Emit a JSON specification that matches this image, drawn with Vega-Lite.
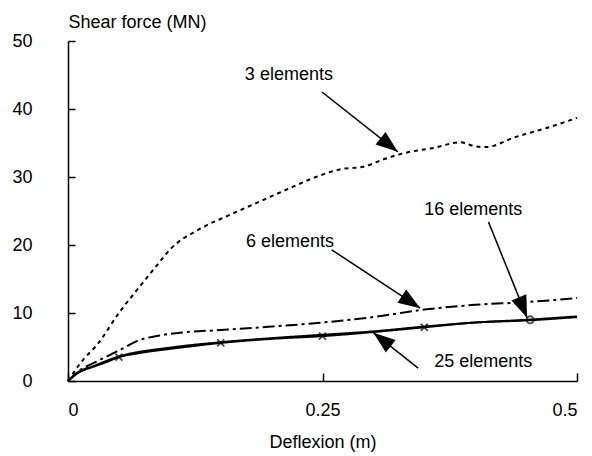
{
  "$schema": "https://vega.github.io/schema/vega-lite/v6.json",
  "autosize": "none",
  "width": 509,
  "height": 340,
  "padding": {"left": 68, "top": 41, "right": 15, "bottom": 75},
  "background": "white",
  "config": {
    "view": {"stroke": null},
    "font": "Liberation Sans",
    "axis": {"grid": false, "domainColor": "black", "tickColor": "black", "labelColor": "black", "titleColor": "black", "labelFont": "Liberation Sans", "titleFont": "Liberation Sans", "labelFontSize": 18, "titleFontSize": 18, "titleFontWeight": "normal", "domainWidth": 1.5, "tickWidth": 1.5}
  },
  "datasets": {
    "curves": [
      {"series": "3", "x": 0, "y": 0},
      {"series": "3", "x": 0.012, "y": 2.6},
      {"series": "3", "x": 0.03, "y": 5.6},
      {"series": "3", "x": 0.05, "y": 10},
      {"series": "3", "x": 0.07, "y": 13.8},
      {"series": "3", "x": 0.09, "y": 17.5},
      {"series": "3", "x": 0.1, "y": 19.3},
      {"series": "3", "x": 0.13, "y": 22.4},
      {"series": "3", "x": 0.16, "y": 24.5},
      {"series": "3", "x": 0.19, "y": 26.5},
      {"series": "3", "x": 0.22, "y": 28.5},
      {"series": "3", "x": 0.24, "y": 29.8},
      {"series": "3", "x": 0.27, "y": 31.2},
      {"series": "3", "x": 0.29, "y": 31.5},
      {"series": "3", "x": 0.31, "y": 32.6},
      {"series": "3", "x": 0.33, "y": 33.5},
      {"series": "3", "x": 0.36, "y": 34.3},
      {"series": "3", "x": 0.385, "y": 35.1},
      {"series": "3", "x": 0.4, "y": 34.5},
      {"series": "3", "x": 0.41, "y": 34.4},
      {"series": "3", "x": 0.44, "y": 35.9},
      {"series": "3", "x": 0.47, "y": 37.2},
      {"series": "3", "x": 0.5, "y": 38.7},
      {"series": "6", "x": 0, "y": 0},
      {"series": "6", "x": 0.01, "y": 1.4},
      {"series": "6", "x": 0.03, "y": 3.0},
      {"series": "6", "x": 0.05, "y": 4.5},
      {"series": "6", "x": 0.07, "y": 6.0},
      {"series": "6", "x": 0.09, "y": 6.7},
      {"series": "6", "x": 0.11, "y": 7.1},
      {"series": "6", "x": 0.15, "y": 7.5},
      {"series": "6", "x": 0.2, "y": 8.0},
      {"series": "6", "x": 0.25, "y": 8.6},
      {"series": "6", "x": 0.3, "y": 9.4},
      {"series": "6", "x": 0.35, "y": 10.5},
      {"series": "6", "x": 0.4, "y": 11.2},
      {"series": "6", "x": 0.45, "y": 11.6},
      {"series": "6", "x": 0.5, "y": 12.2},
      {"series": "16", "x": 0, "y": 0},
      {"series": "16", "x": 0.01, "y": 1.3},
      {"series": "16", "x": 0.025, "y": 2.2},
      {"series": "16", "x": 0.05, "y": 3.6},
      {"series": "16", "x": 0.1, "y": 4.9},
      {"series": "16", "x": 0.15, "y": 5.7},
      {"series": "16", "x": 0.2, "y": 6.3},
      {"series": "16", "x": 0.25, "y": 6.8},
      {"series": "16", "x": 0.3, "y": 7.3},
      {"series": "16", "x": 0.35, "y": 8.0},
      {"series": "16", "x": 0.4, "y": 8.6},
      {"series": "16", "x": 0.45, "y": 9.0},
      {"series": "16", "x": 0.5, "y": 9.5},
      {"series": "25", "x": 0, "y": 0},
      {"series": "25", "x": 0.01, "y": 1.2},
      {"series": "25", "x": 0.025, "y": 2.1},
      {"series": "25", "x": 0.038, "y": 2.8},
      {"series": "25", "x": 0.05, "y": 3.5},
      {"series": "25", "x": 0.07, "y": 4.1},
      {"series": "25", "x": 0.11, "y": 4.9},
      {"series": "25", "x": 0.15, "y": 5.6},
      {"series": "25", "x": 0.2, "y": 6.2},
      {"series": "25", "x": 0.25, "y": 6.6},
      {"series": "25", "x": 0.3, "y": 7.2},
      {"series": "25", "x": 0.35, "y": 7.9},
      {"series": "25", "x": 0.4, "y": 8.6},
      {"series": "25", "x": 0.45, "y": 8.9},
      {"series": "25", "x": 0.5, "y": 9.4}
    ],
    "markers": [
      {"series": "25", "x": 0.05, "y": 3.5},
      {"series": "25", "x": 0.15, "y": 5.6},
      {"series": "25", "x": 0.25, "y": 6.6},
      {"series": "25", "x": 0.35, "y": 7.9},
      {"series": "16", "x": 0.454, "y": 9.0}
    ],
    "arrows": [
      {"label": "3 elements", "x": 0.2495, "y": 42.5, "x2": 0.324, "y2": 33.7, "angle": 128.3},
      {"label": "6 elements", "x": 0.259, "y": 19.3, "x2": 0.346, "y2": 10.7, "angle": 123.4},
      {"label": "16 elements", "x": 0.413, "y": 23.4, "x2": 0.451, "y2": 9.3, "angle": 157.9},
      {"label": "25 elements", "x": 0.344, "y": 1.9, "x2": 0.3, "y2": 7.1, "angle": 307.9}
    ],
    "labels": [
      {"label": "3 elements", "x": 0.217, "y": 45},
      {"label": "6 elements", "x": 0.218, "y": 20.4},
      {"label": "16 elements", "x": 0.398, "y": 25.1},
      {"label": "25 elements", "x": 0.408, "y": 2.8}
    ]
  },
  "layer": [
    {
      "data": {"name": "curves"},
      "mark": {"type": "line", "color": "black", "interpolate": "monotone"},
      "encoding": {
        "x": {"field": "x", "type": "quantitative", "scale": {"domain": [0, 0.5], "nice": false},
          "axis": {"values": [0, 0.25, 0.5], "format": "~g", "tickSize": -8, "labelPadding": 28, "title": "Deflexion (m)", "titlePadding": 14}},
        "y": {"field": "y", "type": "quantitative", "scale": {"domain": [0, 50], "nice": false},
          "axis": {"values": [0, 10, 20, 30, 40, 50], "tickSize": -7, "labelPadding": 43, "labelAlign": "right", "title": "Shear force (MN)", "titleAngle": 0, "titleX": 0, "titleY": -14, "titleAlign": "left", "titleBaseline": "alphabetic"}},
        "detail": {"field": "series"},
        "strokeDash": {"field": "series", "type": "nominal", "legend": null,
          "scale": {"domain": ["3", "6", "16", "25"], "range": [[4, 4], [12, 4, 3, 4], [1, 0], [1, 0]]}},
        "strokeWidth": {"field": "series", "type": "nominal", "legend": null,
          "scale": {"domain": ["3", "6", "16", "25"], "range": [2, 2, 1.2, 2]}}
      }
    },
    {
      "data": {"name": "markers"},
      "mark": {"type": "point", "color": "black", "strokeWidth": 1.8, "filled": false},
      "encoding": {
        "x": {"field": "x", "type": "quantitative"},
        "y": {"field": "y", "type": "quantitative"},
        "shape": {"field": "series", "type": "nominal", "legend": null, "scale": {"domain": ["25", "16"], "range": ["M-1,-1L1,1M1,-1L-1,1", "circle"]}},
        "size": {"value": 50}
      }
    },
    {
      "data": {"name": "arrows"},
      "mark": {"type": "rule", "color": "black", "strokeWidth": 1.5},
      "encoding": {
        "x": {"field": "x", "type": "quantitative"},
        "y": {"field": "y", "type": "quantitative"},
        "x2": {"field": "x2"},
        "y2": {"field": "y2"}
      }
    },
    {
      "data": {"name": "arrows"},
      "mark": {"type": "point", "shape": "M0,0L0.8,2.2L-0.8,2.2Z", "filled": true, "color": "black", "opacity": 1},
      "encoding": {
        "x": {"field": "x2", "type": "quantitative"},
        "y": {"field": "y2", "type": "quantitative"},
        "angle": {"field": "angle", "type": "quantitative", "scale": null},
        "size": {"value": 400}
      }
    },
    {
      "data": {"name": "labels"},
      "mark": {"type": "text", "fontSize": 18, "color": "black", "font": "Liberation Sans"},
      "encoding": {
        "x": {"field": "x", "type": "quantitative"},
        "y": {"field": "y", "type": "quantitative"},
        "text": {"field": "label"}
      }
    }
  ]
}
